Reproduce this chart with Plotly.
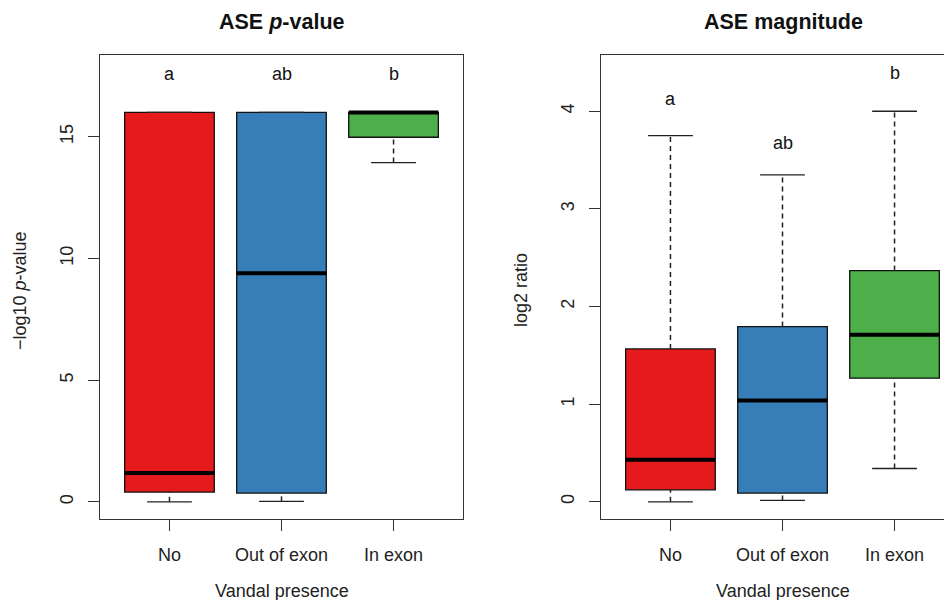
import plotly.graph_objects as go

# ---------------- data ----------------
categories = ["No", "Out of exon", "In exon"]
colors = ["#E41A1C", "#377EB8", "#4DAF4A"]

# ASE p-value (-log10 p)
p_low = [0.0, 0.02, 13.94]
p_q1 = [0.40, 0.36, 14.98]
p_med = [1.18, 9.39, 16.0]
p_q3 = [16.0, 16.0, 16.0]
p_high = [16.0, 16.0, 16.0]
p_letters = ["a", "ab", "b"]
p_letter_y = [17.6, 17.6, 17.6]

# ASE magnitude (log2 ratio)
m_low = [0.0, 0.014, 0.341]
m_q1 = [0.123, 0.089, 1.266]
m_med = [0.43, 1.037, 1.71]
m_q3 = [1.566, 1.795, 2.368]
m_high = [3.75, 3.348, 4.0]
m_letters = ["a", "ab", "b"]
m_letter_y = [4.13, 3.67, 4.39]

p_ticks = [0, 5, 10, 15]
m_ticks = [0, 1, 2, 3, 4]

# ---------------- figure ----------------
OFF = 8                      # page body margin
W, H = 952 - OFF, 600 - OFF  # figure size so it fits in the window
FONT = "Liberation Sans, Arial, sans-serif"
fig = go.Figure()

positions = [1, 2, 3]
BOXW = 0.8
CAPW = 0.4


def add_panel(xa, ya, low, q1, med, q3, high):
    for i, pos in enumerate(positions):
        fig.add_trace(go.Box(
            x=[pos], q1=[q1[i]], median=[med[i]], q3=[q3[i]],
            lowerfence=[q1[i]], upperfence=[q3[i]],
            width=BOXW, fillcolor=colors[i],
            line=dict(color="#111111", width=1.3),
            whiskerwidth=0, boxpoints=False,
            xaxis=xa, yaxis=ya, showlegend=False, hoverinfo="skip",
        ))
    wx, wy, cx, cy, mx, my = [], [], [], [], [], []
    for i, pos in enumerate(positions):
        wx += [pos, pos, None, pos, pos, None]
        wy += [q3[i], high[i], None, low[i], q1[i], None]
        cx += [pos - CAPW / 2, pos + CAPW / 2, None, pos - CAPW / 2, pos + CAPW / 2, None]
        cy += [high[i], high[i], None, low[i], low[i], None]
        mx += [pos - BOXW / 2, pos + BOXW / 2, None]
        my += [med[i], med[i], None]
    fig.add_trace(go.Scatter(x=wx, y=wy, mode="lines",
                             line=dict(color="#222222", width=1.5, dash="5px,4px"),
                             xaxis=xa, yaxis=ya, showlegend=False, hoverinfo="skip"))
    fig.add_trace(go.Scatter(x=cx, y=cy, mode="lines",
                             line=dict(color="#222222", width=1.3),
                             xaxis=xa, yaxis=ya, showlegend=False, hoverinfo="skip"))
    fig.add_trace(go.Scatter(x=mx, y=my, mode="lines",
                             line=dict(color="#000000", width=4),
                             xaxis=xa, yaxis=ya, showlegend=False, hoverinfo="skip"))


add_panel("x", "y", p_low, p_q1, p_med, p_q3, p_high)
add_panel("x2", "y2", m_low, m_q1, m_med, m_q3, m_high)

# panel geometry (screen pixels -> figure pixels)
L1, R1 = 100 - OFF, 463 - OFF
L2, R2full = 601 - OFF, 964 - OFF
TOP, BOT = 55 - OFF, 519 - OFF
px_per_unit = (R1 - L1) / 3.24
x2_end = 0.38 + (W - L2) / px_per_unit

axis_common = dict(
    showgrid=False, zeroline=False, showline=True, linecolor="#333333", linewidth=1.3,
    ticks="outside", tickcolor="#333333", tickwidth=1.3, ticklen=11,
    tickfont=dict(family=FONT, size=18, color="#222222"),
)

fig.update_layout(
    width=W, height=H,
    margin=dict(l=0, r=0, t=0, b=0),
    paper_bgcolor="white", plot_bgcolor="white",
    showlegend=False,
    xaxis=dict(domain=[L1 / W, R1 / W], range=[0.38, 3.62], tickvals=positions,
               ticktext=categories, mirror=True, ticklabelstandoff=8, **axis_common),
    yaxis=dict(domain=[1 - BOT / H, 1 - TOP / H], range=[-0.706, 18.36], tickvals=p_ticks,
               tickangle=-90, mirror=True, ticklabelstandoff=8, **axis_common),
    xaxis2=dict(domain=[L2 / W, 1.0], range=[0.38, x2_end], tickvals=positions,
                ticktext=categories, mirror=True, anchor="y2", ticklabelstandoff=8, **axis_common),
    yaxis2=dict(domain=[1 - BOT / H, 1 - TOP / H], range=[-0.176, 4.576], tickvals=m_ticks,
                tickangle=-90, mirror=False, anchor="x2", ticklabelstandoff=8, **axis_common),
)

ann = []
for i, pos in enumerate(positions):
    ann.append(dict(x=pos, y=p_letter_y[i], xref="x", yref="y", text=p_letters[i],
                    showarrow=False, font=dict(family=FONT, size=18, color="#111111")))
    ann.append(dict(x=pos, y=m_letter_y[i], xref="x2", yref="y2", text=m_letters[i],
                    showarrow=False, font=dict(family=FONT, size=18, color="#111111")))


def pann(sx, sy, text, size, angle=0, color="#222222"):
    return dict(x=(sx - OFF) / W, y=1 - (sy - OFF) / H, xref="paper", yref="paper",
                xanchor="center", yanchor="middle", text=text, textangle=angle,
                showarrow=False, font=dict(family=FONT, size=size, color=color))


ann.append(pann(282, 22, "<b>ASE <i>p</i>-value</b>", 21.5, color="#111111"))
ann.append(pann(783, 22, "<b>ASE magnitude</b>", 21.5, color="#111111"))
ann.append(pann(282, 591, "Vandal presence", 18))
ann.append(pann(783, 591, "Vandal presence", 18))
ann.append(pann(20, 291, "\u2212log10 <i>p</i>-value", 18, angle=-90))
ann.append(pann(521, 290, "log2 ratio", 18, angle=-90))

fig.update_layout(annotations=ann)
fig.write_html("out.html")
